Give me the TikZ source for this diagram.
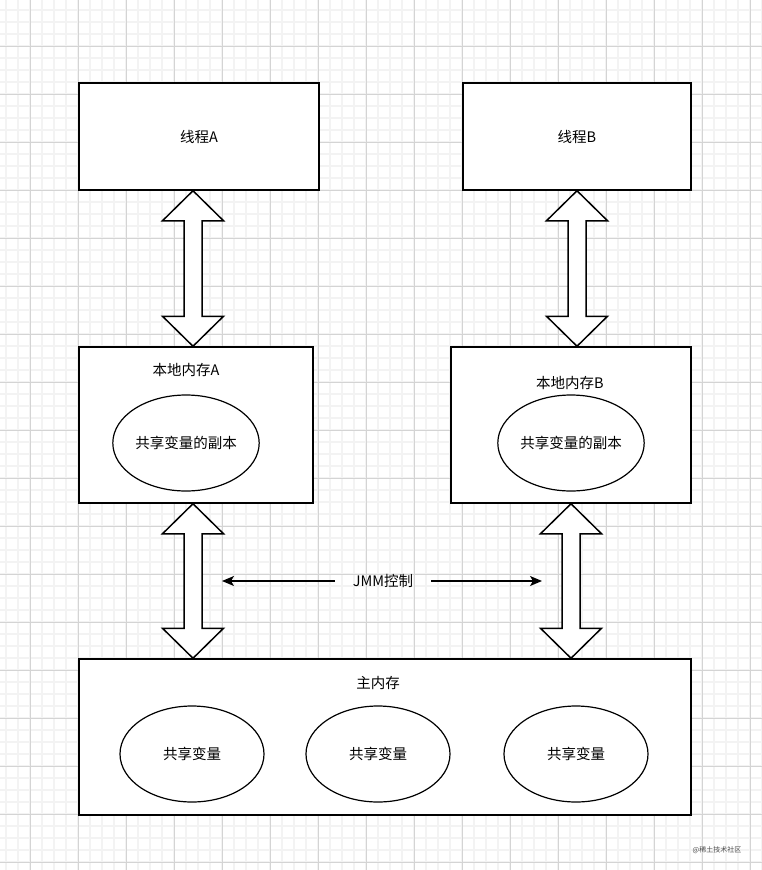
\documentclass[tikz,border=0pt]{standalone}
\usepackage{fontspec}
\setmainfont{Noto Sans CJK SC}
\usetikzlibrary{shapes.geometric,arrows.meta,calc}
\definecolor{gridminor}{HTML}{F3F3F3}
\definecolor{gridmajor}{HTML}{D4D4D4}
\newcommand\fatarrow[2]{%
  \draw[fat] let \p1=(#1), \p2=(#2) in
    (\x1,\y1) -- ++(30.5,30) -- ++(-21.5,0) -- (\x1+9pt,\y2+30pt)
    -- ++(21.5,0) -- (\x1,\y2) -- ++(-30.5,-30) -- ++(21.5,0)
    -- (\x1-9pt,\y1-30pt) -- ++(-21.5,0) -- cycle;}

\begin{document}
\begin{tikzpicture}[
  x=1pt,y=-1pt,
  box/.style={draw,line width=1.5pt,fill=white,inner sep=0pt},
  copy/.style={draw,ellipse,line width=1.2pt,fill=white,
    minimum width=144pt,minimum height=96pt,inner sep=0pt},
  txt/.style={font=\fontsize{14.5}{16}\selectfont,inner sep=1pt},
  fat/.style={line width=1.5pt,fill=white,line join=miter},
  ctrl/.style={-{Stealth[length=12pt,width=10pt,inset=3pt]},line width=1.3pt}
]
\useasboundingbox (0,0) rectangle (762,870);
\fill[white] (0,0) rectangle (762,870);
\foreach \x in {6,18,...,762} \draw[gridminor,line width=1.6pt] (\x,0) -- (\x,870);
\foreach \y in {10,22,...,870} \draw[gridminor,line width=1.6pt] (0,\y) -- (762,\y);
\foreach \x in {30,78,...,762} \draw[gridmajor,line width=0.9pt] (\x,0) -- (\x,870);
\foreach \y in {46,94,...,870} \draw[gridmajor,line width=0.9pt] (0,\y) -- (762,\y);

\node[box,txt,minimum width=240pt,minimum height=107pt] (tA) at (199,136.5) {线程A};
\node[box,txt,minimum width=228pt,minimum height=107pt] (tB) at (577,136.5) {线程B};

\node[box,minimum width=234pt,minimum height=156pt] (lA) at (196,425) {};
\node[txt] (lAname) at (186,370) {本地内存A};
\node[copy,txt] (cA) at (186,443) {共享变量的副本};

\node[box,minimum width=240pt,minimum height=156pt] (lB) at (571,425) {};
\node[txt] (lBname) at (570,383) {本地内存B};
\node[copy,txt] (cB) at (571,443) {共享变量的副本};

\node[box,minimum width=612pt,minimum height=156pt] (mm) at (385,737) {};
\node[txt] (mmname) at (378,683) {主内存};
\node[copy,txt] (s1) at (192,754) {共享变量};
\node[copy,txt] (s2) at (378,754) {共享变量};
\node[copy,txt] (s3) at (576,754) {共享变量};

\coordinate (aA) at ($(lA.north)+(-3,0)$);
\coordinate (bA) at ($(lA.south)+(-3,0)$);
\fatarrow{tA.south -| aA}{aA}
\fatarrow{tB.south}{lB.north -| tB.south}
\fatarrow{bA}{mm.north -| bA}
\fatarrow{lB.south}{mm.north -| lB.south}

\node[txt,inner xsep=18pt] (jmm) at (383,581) {JMM控制};
\coordinate (jl) at (222,581);
\coordinate (jr) at (542,581);
\draw[ctrl] (jmm.west) -- (jl);
\draw[ctrl] (jmm.east) -- (jr);

\node[font=\fontsize{7}{8}\selectfont,text=black!70] (mark) at (717,850) {@稀土技术社区};
\end{tikzpicture}
\end{document}
